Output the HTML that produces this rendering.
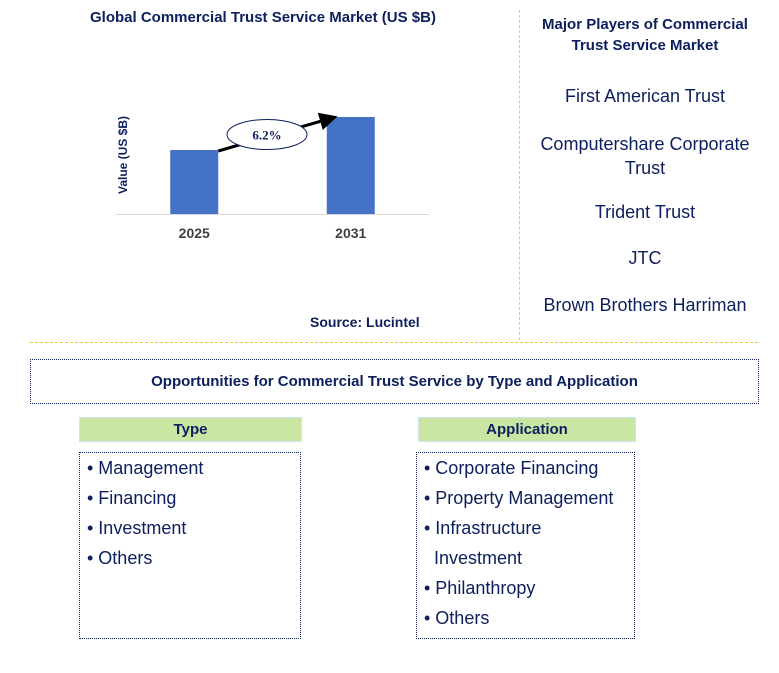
<!DOCTYPE html>
<html><head><meta charset="utf-8">
<style>
body{margin:0;width:779px;height:673px;background:#fff;font-family:"Liberation Sans",Arial,sans-serif;position:relative;overflow:hidden}
.a{position:absolute}
.t{color:#0d1f5c;font-weight:bold}
.pl{color:#0d1f5c;font-size:18px;text-align:center;width:250px;left:520px}
.li{font-size:18px;color:#0d1f5c;line-height:30px}
</style></head><body>
<div class="a t" style="left:90px;top:9px;font-size:15px">Global Commercial Trust Service Market (US $B)</div>
<svg class="a" style="left:0;top:0" width="520" height="250">
<defs><marker id="ah" markerWidth="6" markerHeight="6" refX="4" refY="3" orient="auto"><path d="M0,0 L6,3 L0,6 z" fill="#000"/></marker></defs>
<g id="g"></g>
<text x="0" y="0" transform="translate(127,155) rotate(-90)" text-anchor="middle" font-size="12" font-weight="bold" fill="#0d1f5c" font-family="Liberation Sans">Value (US $B)</text>
</svg>
<div class="a" style="left:519px;top:10px;height:330px;border-left:1px dashed #c8c8c8"></div>
<div class="a t" style="left:310px;top:314px;font-size:14px">Source: Lucintel</div>
<div class="a t" style="left:520px;top:14px;width:250px;text-align:center;font-size:15px;line-height:21px">Major Players of Commercial<br>Trust Service Market</div>
<div class="a pl" style="top:86px">First American Trust</div>
<div class="a pl" style="top:132px;line-height:24px">Computershare Corporate<br>Trust</div>
<div class="a pl" style="top:202px">Trident Trust</div>
<div class="a pl" style="top:248px">JTC</div>
<div class="a pl" style="top:295px">Brown Brothers Harriman</div>
<div class="a" style="left:30px;top:342px;width:728px;border-top:1px dashed #f4c430"></div>
<div class="a t" style="left:30px;top:359px;width:727px;height:43px;border:1px dotted #0d1f5c;text-align:center;line-height:43px;font-size:15px">Opportunities for Commercial Trust Service by Type and Application</div>
<div class="a t" style="left:79px;top:417px;width:221px;height:23px;background:#c9e6a3;border:1px solid #cfe3f0;text-align:center;line-height:23px;font-size:15px">Type</div>
<div class="a t" style="left:418px;top:417px;width:216px;height:23px;background:#c9e6a3;border:1px solid #cfe3f0;text-align:center;line-height:23px;font-size:15px">Application</div>
<div class="a li" style="left:79px;top:452px;width:213px;height:185px;border:1px dotted #0d1f5c;padding-left:7px;padding-top:0">• Management<br>• Financing<br>• Investment<br>• Others</div>
<div class="a li" style="left:416px;top:452px;width:210px;height:185px;border:1px dotted #0d1f5c;padding-left:7px">• Corporate Financing<br>• Property Management<br>• Infrastructure<br>&nbsp;&nbsp;Investment<br>• Philanthropy<br>• Others</div>
<script>
const categories=["2025","2031"];
const values=[6.4,9.7];
const cagrLabel="6.2%";
const NS="http://www.w3.org/2000/svg",g=document.getElementById('g');
const x0=116,x1=429,base=214,ymax=11,ph=110;
const y=v=>base-v/ymax*ph;
const bw=48,step=(x1-x0)/categories.length;
const cx=i=>x0+step*(i+0.5);
function mk(t,a){const e=document.createElementNS(NS,t);for(const k in a)e.setAttribute(k,a[k]);g.appendChild(e);return e;}
const ax=mk('line',{x1:x0,x2:x1,y1:base+0.5,y2:base+0.5,stroke:'#d9d9d9'});


categories.forEach((c,i)=>{
 const r=mk('rect',{x:cx(i)-bw/2,y:y(values[i]),width:bw,height:base-y(values[i]),fill:'#4472c4'});
 
 
 const t=mk('text',{x:cx(i),y:238,'text-anchor':'middle','font-size':14,'font-weight':'bold',fill:'#404040','font-family':'Liberation Sans'});
 t.textContent=c;
 
 
});
const ax1=cx(0)+bw/2,ay1=y(values[0])+1,ax2=cx(1)-bw/2+5,ay2=y(values[1])+1;
const ar=mk('line',{x1:ax1,y1:ay1,x2:ax2,y2:ay2,stroke:'#000','stroke-width':3,'marker-end':'url(#ah)'});


const mx=(ax1+ax2)/2-8,my=(ay1+ay2)/2;
const el=mk('ellipse',{cx:mx,cy:my,rx:40,ry:15,fill:'#fff',stroke:'#0d1f5c'});


const ct=mk('text',{x:mx,y:my+5,'text-anchor':'middle','font-size':13,'font-weight':'bold',fill:'#0d1f5c','font-family':'Liberation Serif'});
ct.textContent=cagrLabel;


</script>
</body></html>
